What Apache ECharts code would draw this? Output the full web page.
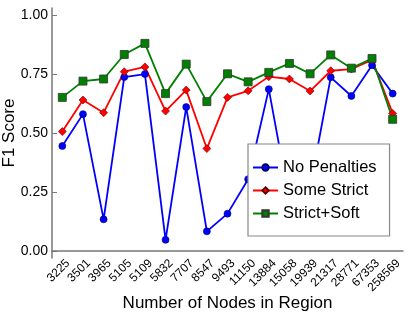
<!DOCTYPE html>
<html><head><meta charset="utf-8">
<script src="https://cdn.jsdelivr.net/npm/echarts@6/dist/echarts.min.js"></script>
<style>html,body{margin:0;padding:0;background:#fff}#c{width:415px;height:312px}</style>
</head><body><div id="c"></div>
<script>
const categories = ['3225','3501','3965','5105','5109','5832','7707','8547','9493','11150','13884','15058','19939','21317','28771','67353','258569'];
const noPenalties = [0.445,0.580,0.134,0.737,0.750,0.047,0.610,0.083,0.158,0.304,0.686,0.21,0.27,0.736,0.657,0.787,0.667];
const someStrict = [0.506,0.640,0.586,0.760,0.780,0.593,0.682,0.434,0.651,0.679,0.739,0.729,0.678,0.764,0.771,0.810,0.583];
const strictSoft = [0.651,0.720,0.729,0.833,0.880,0.667,0.792,0.633,0.751,0.717,0.757,0.795,0.751,0.831,0.775,0.816,0.558];
const yTicks = [0,0.25,0.5,0.75,1];

const font = 'Liberation Sans, Arial, Helvetica, sans-serif';
const chart = echarts.init(document.getElementById('c'), null, {renderer:'canvas'});
chart.setOption({
  animation:false,
  grid:{left:52,right:12,top:8,bottom:54,containLabel:false,outerBoundsMode:'none'},
  legend:{
    orient:'vertical', left:248, top:144,
    padding:[15,13,14,4],
    backgroundColor:'#fff', borderColor:'#888', borderWidth:1.2, borderRadius:0,
    itemWidth:25, itemHeight:8, itemGap:6,
    textStyle:{fontFamily:font,fontSize:16.5,color:'#000',lineHeight:16},
    data:['No Penalties','Some Strict','Strict+Soft']
  },
  xAxis:{
    type:'category', data:categories, boundaryGap:true,
    name:'Number of Nodes in Region', nameLocation:'middle', nameGap:37, nameMoveOverlap:false,
    nameTextStyle:{fontFamily:font,fontSize:17,color:'#000'},
    axisLine:{lineStyle:{color:'#777',width:1.5}},
    axisTick:{inside:true,alignWithLabel:true,length:5,lineStyle:{color:'#777',width:1}},
    axisLabel:{rotate:45,interval:0,fontFamily:font,fontSize:12,color:'#000',margin:9,padding:[0,-8,0,0]},
    splitLine:{show:false}
  },
  yAxis:{
    type:'value', min:-0.03, max:1.03,
    name:'F1 Score', nameLocation:'middle', nameGap:34, nameMoveOverlap:false,
    nameTextStyle:{fontFamily:font,fontSize:17,color:'#000'},
    axisLine:{show:true,lineStyle:{color:'#777',width:1.5}},
    axisTick:{show:true,inside:true,length:5,customValues:yTicks,lineStyle:{color:'#777',width:1}},
    axisLabel:{customValues:yTicks,fontFamily:font,fontSize:14,color:'#000',margin:4,formatter:v=>v.toFixed(2)},
    splitLine:{show:false}
  },
  series:[
    {name:'No Penalties',type:'line',data:noPenalties,symbol:'circle',symbolSize:7,
     lineStyle:{color:'#0000ff',width:1.8},itemStyle:{color:'#0000ff',borderColor:'#000066',borderWidth:0.6}},
    {name:'Some Strict',type:'line',data:someStrict,symbol:'diamond',symbolSize:8,
     lineStyle:{color:'#ff0000',width:1.8},itemStyle:{color:'#ff0000',borderColor:'#660000',borderWidth:0.6}},
    {name:'Strict+Soft',type:'line',data:strictSoft,symbol:'rect',symbolSize:8,
     lineStyle:{color:'#008000',width:1.8},itemStyle:{color:'#008000',borderColor:'#333',borderWidth:0.8}}
  ]
});
</script></body></html>
